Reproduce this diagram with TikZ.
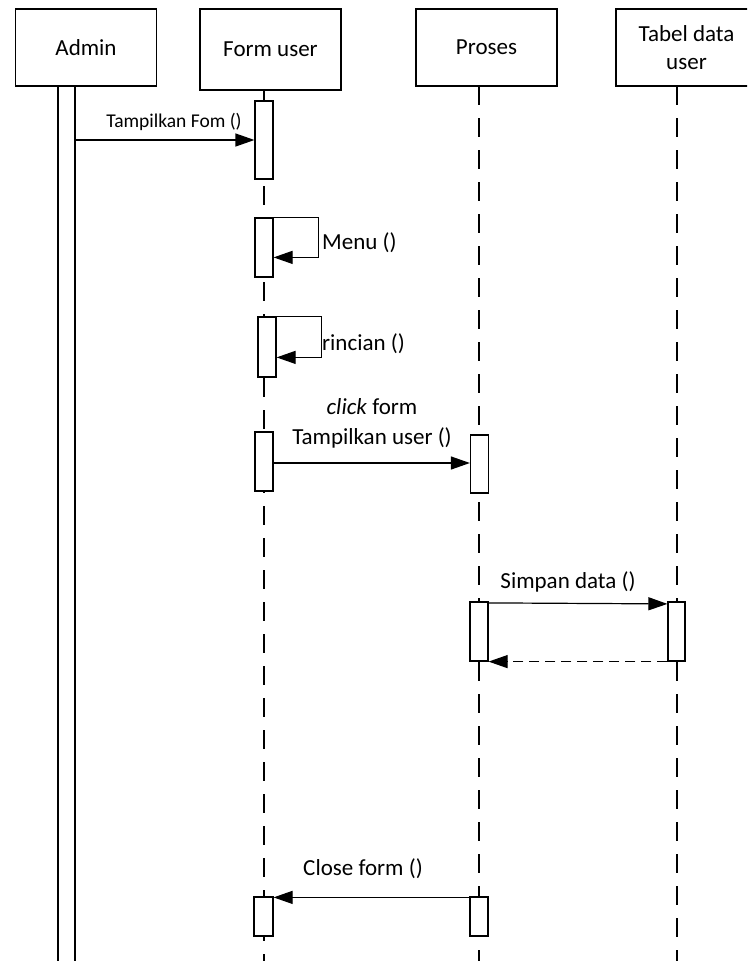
\documentclass[tikz,border=0pt]{standalone}
\usepackage{fontspec}
\setmainfont{Carlito}
\usetikzlibrary{arrows.meta}
\begin{document}
\begin{tikzpicture}[x=1pt,y=-1pt,
  every node/.style={font=\fontsize{23}{28}\selectfont},
  actor/.style={draw,line width=1.2pt,fill=white,minimum width=141pt,minimum height=77pt,inner sep=0pt,align=center},
  bar/.style={draw,line width=1.2pt,fill=white,minimum width=18pt,inner sep=0pt},
  life/.style={line width=1.2pt,dash pattern=on 19pt off 13pt},
  msg/.style={line width=1.2pt,-{Triangle[length=19pt,width=13pt]}},
  ret/.style={line width=1.2pt,dash pattern=on 10pt off 6pt,-{Triangle[length=19pt,width=13pt]}},
  lbl/.style={inner sep=0pt}]
\clip (0,0) rectangle (747,961);
\fill[white] (0,0) rectangle (747,961);
% actors
\node[actor] (admin) at (86,47.5) {Admin};
\node[actor,minimum height=81pt] (form) at (270.5,49.5) {Form user};
\node[actor] (proses) at (486.5,47.5) {Proses};
\node[actor] (tabel) at (686.5,47.5) {Tabel data\\user};
% lifelines
\coordinate (formend) at (264,961);
\coordinate (prosesend) at (479,961);
\coordinate (tabelend) at (677,961);
\draw[life] (264,90) -- (formend);
\draw[life] (479,86) -- (prosesend);
\draw[life] (677,86) -- (tabelend);
% admin activation
\node[draw,line width=1.2pt,fill=white,minimum width=17pt,minimum height=890pt,inner sep=0pt,anchor=north] (adminbar) at (66.5,86) {};
% bars
\node[bar,minimum height=78pt] (b1) at (264,140) {};
\node[bar,minimum height=59pt] (b2) at (264,247.5) {};
\node[bar,minimum height=60pt] (b3) at (267,347) {};
\node[bar,minimum height=59pt] (b4) at (264,461.5) {};
\node[bar,minimum height=58pt] (b5) at (479.5,464) {};
\node[bar,minimum height=59pt] (b6) at (479,631.5) {};
\node[bar,minimum height=59pt,minimum width=17pt] (b7) at (676.5,631.5) {};
\node[bar,minimum height=39pt,minimum width=19pt] (b8) at (263.5,916.5) {};
\node[bar,minimum height=39pt] (b9) at (479,916.5) {};
% messages
\draw[msg] (b1.west -| adminbar.east) -- (b1.west);
\node[lbl,font=\fontsize{19.5}{23}\selectfont] (l1) at (174,122) {Tampilkan Fom ()};
\draw[msg] (b2.north east) -- ++(45,0) -- ++(0,40) -- ([yshift=-40pt]b2.north east);
\node[lbl,anchor=west] (l2) at (322,243) {Menu ()};
\draw[msg] (b3.north east) -- ++(45,0) -- ++(0,41) -- ([yshift=-41pt]b3.north east);
\node[lbl,anchor=west] (l3) at (322,344) {rincian ()};
\draw[msg] (b4.east) ++(0,1.5) coordinate (c4) -- (c4 -| b5.west);
\node[lbl] (l4a) at (372,407) {\textit{click} form};
\node[lbl] (l4b) at (372,438) {Tampilkan user ()};
\draw[msg] ([yshift=-1.5pt]b6.north east) -- ([yshift=-2.5pt]b7.north west);
\node[lbl] (l5) at (568,582) {Simpan data ()};
\draw[ret] (b7.south west) -- (b6.south east);
\draw[msg] ([yshift=-1pt]b9.north west) -- ([yshift=-1pt]b9.north west -| b8.east);
\node[lbl] (l6) at (363,869) {Close form ()};
\end{tikzpicture}
\end{document}
